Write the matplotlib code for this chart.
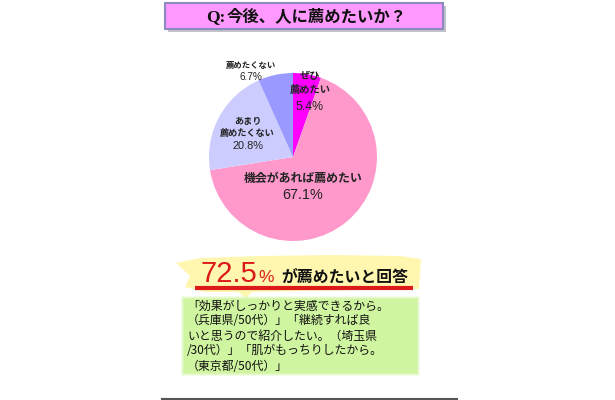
import matplotlib
matplotlib.use("Agg")
import matplotlib.pyplot as plt
from matplotlib.patches import Rectangle, Polygon

plt.rcParams['font.family'] = ['Noto Sans CJK JP', 'DejaVu Sans']

# ---- data ----
title_q = "Q:"
title_rest = "今後、人に薦めたいか？"
categories = ["ぜひ\n薦めたい", "機会があれば薦めたい", "あまり\n薦めたくない", "薦めたくない"]
values = [5.4, 67.1, 20.8, 6.7]
colors = ["#FF00FF", "#FF99CC", "#CCCCFF", "#9999FF"]
headline_value = "72.5"
headline_text = "が薦めたいと回答"
comment_lines = [
    "「効果がしっかりと実感できるから。",
    "（兵庫県/50代）」「継続すれば良",
    "いと思うので紹介したい。（埼玉県",
    "/30代）」「肌がもっちりしたから。",
    "（東京都/50代）」",
]

W, H = 615, 400
fig = plt.figure(figsize=(W / 100, H / 100), dpi=100)
fig.patch.set_facecolor("white")

bg = fig.add_axes([0, 0, 1, 1])
bg.set_xlim(0, W)
bg.set_ylim(H, 0)
bg.axis("off")


def right_edge(t):
    fig.canvas.draw()
    return t.get_window_extent().x1  # pixels from left == data x here


# title box with shadow
bg.add_patch(Rectangle((168, 6), 278, 26, facecolor="#9a9aa8", edgecolor="none", alpha=0.6, zorder=1))
bg.add_patch(Rectangle((165, 3), 278, 26, facecolor="#FF99FF", edgecolor="#8A8ABF", linewidth=1.5, zorder=2))
tq = bg.text(206, 17, title_q, ha="left", va="center", fontsize=12.5, fontweight="bold",
             family="Liberation Serif", color="#111111", zorder=3)
bg.text(right_edge(tq) + 1, 16.5, title_rest, ha="left", va="center", fontsize=11.8,
        fontweight="bold", color="#111111", zorder=3)

# pie
cx, cy, r = 293, 157, 84
pax = fig.add_axes([(cx - r) / W, (H - cy - r) / H, 2 * r / W, 2 * r / H])
pax.pie(values, colors=colors, startangle=90, counterclock=False,
        wedgeprops=dict(linewidth=0))
pax.set_xlim(-1, 1)
pax.set_ylim(-1, 1)
pax.set_aspect("equal")
pax.axis("off")

label_cat_pos = [(0.20, 0.88), (0.12, -0.25), (-0.54, 0.35), (-0.50, 1.09)]
label_val_pos = [(0.20, 0.60), (0.12, -0.45), (-0.54, 0.13), (-0.50, 0.95)]
label_size = [7.4, 8.6, 6.6, 6.0]
label_ls = [1.55, 1.2, 1.35, 1.2]
for cat, val, cp, vp, fs, ls in zip(categories, values, label_cat_pos, label_val_pos,
                                    label_size, label_ls):
    pax.text(cp[0], cp[1], cat, ha="center", va="center", fontsize=fs,
             fontweight="bold", color="#222222", linespacing=ls, clip_on=False)
    pax.text(vp[0], vp[1], f"{val:.1f}%", ha="center", va="center", fontsize=fs * 1.2,
             color="#222222", family=["Liberation Sans", "DejaVu Sans"], clip_on=False)

# headline: yellow brush highlight
brush = Polygon([(176, 263), (200, 258), (260, 256), (330, 255), (400, 256), (421, 259),
                 (419, 289), (300, 291), (252, 292), (246, 298), (238, 292), (205, 292),
                 (185, 287), (190, 276)],
                closed=True, facecolor="#FFF7B0", edgecolor="none", zorder=1)
bg.add_patch(brush)
bg.plot([195, 413], [287.5, 287.5], color="#DD1A1A", linewidth=3, solid_capstyle="butt", zorder=2)
tv = bg.text(200, 282, headline_value, ha="left", va="baseline", fontsize=21,
             color="#DD1A1A", family="Liberation Sans", zorder=3)
tp = bg.text(right_edge(tv) + 2, 282, "%", ha="left", va="baseline", fontsize=12.5,
             color="#DD1A1A", family="Liberation Sans", zorder=3)
bg.text(max(right_edge(tp) + 3, 281), 282, headline_text, ha="left", va="baseline",
        fontsize=11.4, fontweight="bold", color="#111111", zorder=3)

# green comment box with soft edges
for i, a in enumerate([0.25, 0.35, 0.5, 1.0]):
    pad = 3 - i
    bg.add_patch(Rectangle((184 - pad, 299 - pad), 233 + 2 * pad, 74 + 2 * pad,
                           facecolor="#D0F5A0", edgecolor="none", alpha=a, zorder=1))
for k, line in enumerate(comment_lines):
    bg.text(187, 306 + 15 * k, line, ha="left", va="center", fontsize=8.6,
            color="#111111", zorder=3)

# bottom rule
bg.plot([162, 457], [398.5, 398.5], color="#555555", linewidth=1.5, zorder=2)

fig.savefig("out.png", dpi=100, facecolor="white")
